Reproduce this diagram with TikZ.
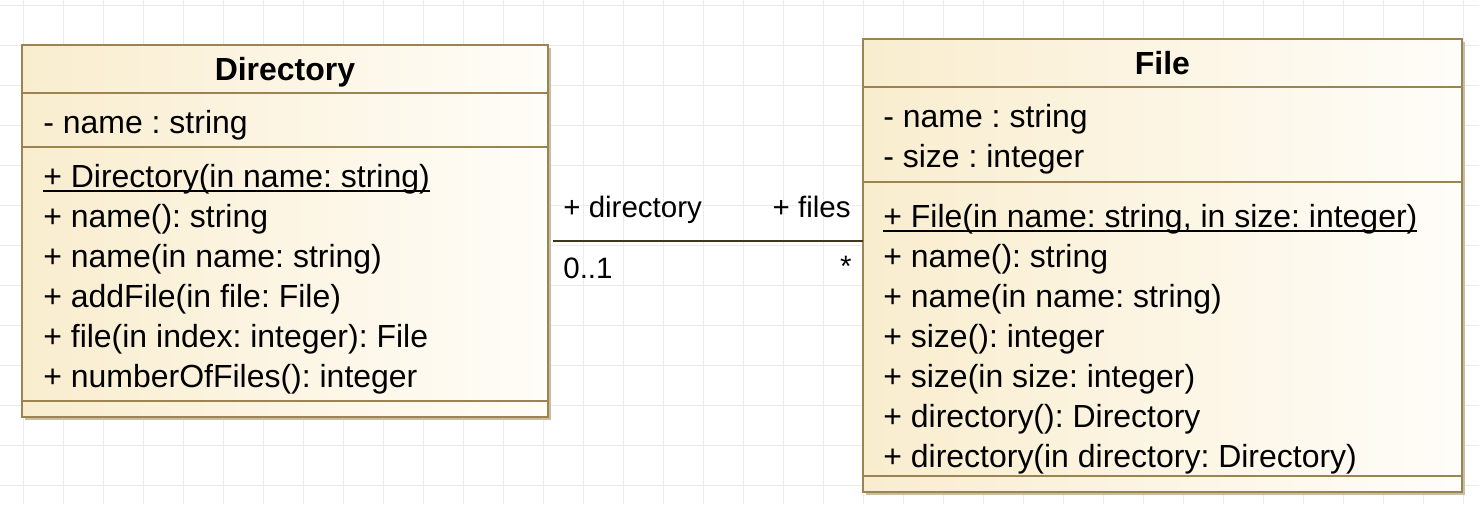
\documentclass[tikz,border=0pt]{standalone}
\usepackage{fontspec}
\setmainfont{Liberation Sans}
\usepackage{tikz}
\usetikzlibrary{shadows,calc}
\definecolor{umlborder}{RGB}{155,131,82}
\definecolor{umlshadow}{RGB}{200,190,166}
\definecolor{umlleft}  {RGB}{249,237,206}
\definecolor{umlright} {RGB}{255,253,249}
\definecolor{umlline}  {RGB}{64,54,32}
\definecolor{gridgray} {RGB}{235,235,235}
\newcommand\ulsig[1]{\setbox0\hbox{#1}\rlap{\rule[-2.7pt]{\wd0}{1.1pt}}\box0}
\frenchspacing

\begin{document}
\begin{tikzpicture}[
  x=0.02cm,y=-0.02cm,
  classbox/.style={draw=umlborder,line width=0.04cm,left color=umlleft,right color=umlright,
    anchor=north west,inner sep=0pt,outer sep=0pt,
    drop shadow={shadow xshift=0.06cm,shadow yshift=-0.06cm,fill=umlshadow,opacity=1}},
  sepline/.style={draw=umlborder,line width=0.03cm},
  member/.style={inner sep=0pt,font=\fontsize{18.2}{22}\selectfont},
  classtitle/.style={member,font=\fontsize{18.2}{22}\selectfont\bfseries},
  endlabel/.style={inner sep=0pt,font=\fontsize{16.8}{20}\selectfont},
  assoc/.style={draw=umlline,line width=0.045cm}]
  \fill[white](0,0) rectangle (1479,504);
  \useasboundingbox(0,0) rectangle (1479,504);
  \foreach \gx in {23,63,...,1479}\draw[gridgray,line width=0.02cm](\gx,0)--(\gx,504);
  \foreach \gy in {5,45,...,504}\draw[gridgray,line width=0.02cm](0,\gy)--(1479,\gy);
  % Directory
  \node[classbox,minimum width=10.52cm,minimum height=7.44cm](dir) at(22,45){};
  \draw[sepline](dir.west|-0,93)--(dir.east|-0,93);
  \draw[sepline](dir.west|-0,147)--(dir.east|-0,147);
  \draw[sepline](dir.west|-0,401)--(dir.east|-0,401);
  \node[classtitle,anchor=base](dirtitle) at(dir.north|-0,80){Directory};
  \node[member,anchor=base west](dirname) at(43,133){- name : string};
  \node[member,anchor=base west](dirctor) at(43,187){\ulsig{+ Directory(in name: string)}};
  \node[member,anchor=base west](dirget) at(43,227){+ name(): string};
  \node[member,anchor=base west](dirset) at(43,267){+ name(in name: string)};
  \node[member,anchor=base west](diradd) at(43,307){+ addFile(in file: File)};
  \node[member,anchor=base west](dirfile) at(43,347){+ file(in index: integer): File};
  \node[member,anchor=base west](dircount) at(43,387){+ numberOfFiles(): integer};
  % File
  \node[classbox,minimum width=11.98cm,minimum height=9.06cm](file) at(863,39){};
  \draw[sepline](file.west|-0,87)--(file.east|-0,87);
  \draw[sepline](file.west|-0,182)--(file.east|-0,182);
  \draw[sepline](file.west|-0,476)--(file.east|-0,476);
  \node[classtitle,anchor=base](filetitle) at(file.north|-0,74){File};
  \node[member,anchor=base west](filename) at(883,127){- name : string};
  \node[member,anchor=base west](filesize) at(883,167){- size : integer};
  \node[member,anchor=base west](filector) at(883,227){\ulsig{+ File(in name: string, in size: integer)}};
  \node[member,anchor=base west](filegetn) at(883,267){+ name(): string};
  \node[member,anchor=base west](filesetn) at(883,307){+ name(in name: string)};
  \node[member,anchor=base west](filegets) at(883,347){+ size(): integer};
  \node[member,anchor=base west](filesets) at(883,387){+ size(in size: integer)};
  \node[member,anchor=base west](filegetd) at(883,427){+ directory(): Directory};
  \node[member,anchor=base west](filesetd) at(883,467){+ directory(in directory: Directory)};
  % association
  \draw[assoc]([xshift=0.1cm]dir.east|-0,241)--(file.west|-0,241);
  \node[endlabel,anchor=base west](rolel) at(563,217){+ directory};
  \node[endlabel,anchor=base east](roler) at(851,217){+ files};
  \node[endlabel,anchor=base west](multl) at(563,278){0..1};
  \node[endlabel,anchor=base east](multr) at(852,276){*};
\end{tikzpicture}
\end{document}
